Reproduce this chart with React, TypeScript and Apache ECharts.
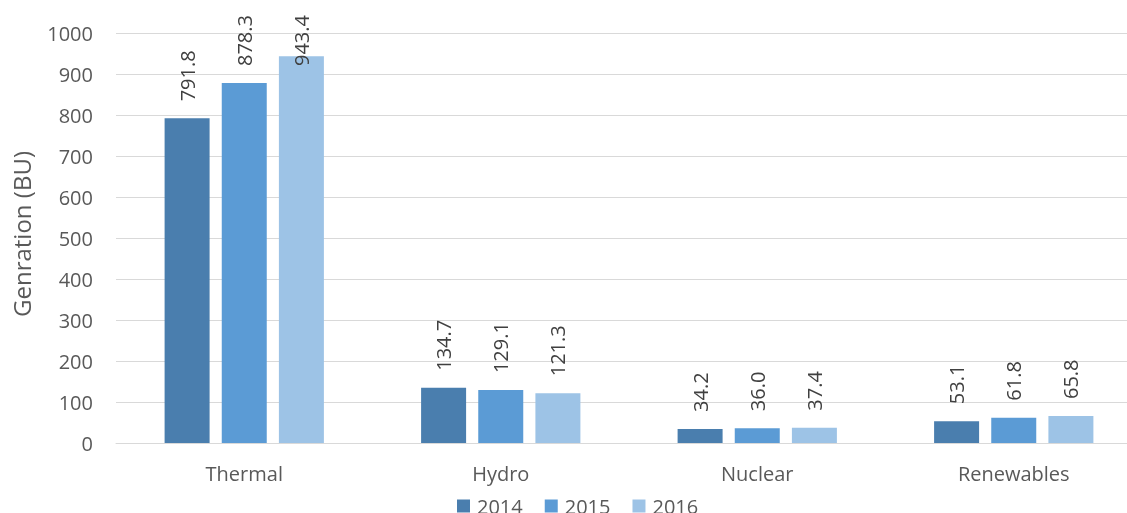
import React, { useEffect, useRef } from "react";
import * as echarts from "echarts";

const categories = ["Thermal", "Hydro", "Nuclear", "Renewables"];
const seriesNames = ["2014", "2015", "2016"];
const values2014 = [791.8, 134.7, 34.2, 53.1];
const values2015 = [878.3, 129.1, 36.0, 61.8];
const values2016 = [943.4, 121.3, 37.4, 65.8];
const colors = ["#4A7EAE", "#5B9BD5", "#9DC3E6"];
const FONT = "'Open Sans', 'Liberation Sans', sans-serif";
const LABEL_GAP = 17;
const LABEL_MIN_TOP = 15;

export default function App() {
  const ref = useRef<HTMLDivElement>(null);
  useEffect(() => {
    if (!ref.current) return;
    const chart = echarts.init(ref.current, null, { renderer: "svg" });
    const data = [values2014, values2015, values2016];
    chart.setOption({
      animation: false,
      textStyle: { fontFamily: FONT },
      grid: {
        left: 116,
        top: 33,
        width: 1026,
        height: 410,
        containLabel: false,
        outerBoundsMode: "none",
      },
      legend: {
        data: seriesNames,
        top: 491,
        left: 452,
        itemWidth: 13,
        itemHeight: 13,
        itemGap: 22,
        icon: "rect",
        textStyle: { fontSize: 20, color: "#595959", fontFamily: FONT, padding: [0, 0, 0, 2] },
      },
      xAxis: {
        type: "category",
        data: categories,
        axisLine: { lineStyle: { color: "#D9D9D9" } },
        axisTick: { show: false },
        axisLabel: { fontSize: 20, color: "#595959", margin: 20, fontFamily: FONT },
      },
      yAxis: {
        type: "value",
        min: 0,
        max: 1000,
        interval: 100,
        name: "Genration (BU)",
        nameLocation: "middle",
        nameGap: 83,
        nameTextStyle: { fontSize: 24, color: "#595959", fontFamily: FONT, padding: [0, 0, 0, 8] },
        axisLine: { show: false },
        axisTick: { show: false },
        axisLabel: {
          fontSize: 20,
          color: "#595959",
          margin: 23,
          fontFamily: FONT,
          formatter: (v: number) => String(v),
        },
        splitLine: { lineStyle: { color: "#D9D9D9" } },
      },
      series: seriesNames.map((name, i) => ({
        name,
        type: "bar",
        data: data[i],
        barWidth: 45,
        barGap: "27%",
        itemStyle: { color: colors[i] },
        label: {
          show: true,
          position: "top",
          rotate: 90,
          align: "left",
          verticalAlign: "middle",
          distance: LABEL_GAP,
          fontSize: 20,
          color: "#404040",
          fontFamily: FONT,
          formatter: (p: any) => Number(p.value).toFixed(1),
        },
      })),
      labelLayout: (params: any) => {
        const r = params.labelRect;
        if (r && r.y < LABEL_MIN_TOP) {
          return { y: LABEL_MIN_TOP + r.height };
        }
        return {};
      },
    });
    return () => chart.dispose();
  }, []);
  return (
    <div
      ref={ref}
      style={{ position: "fixed", left: 0, top: 0, width: 1127, height: 513, overflow: "hidden" }}
    />
  );
}
